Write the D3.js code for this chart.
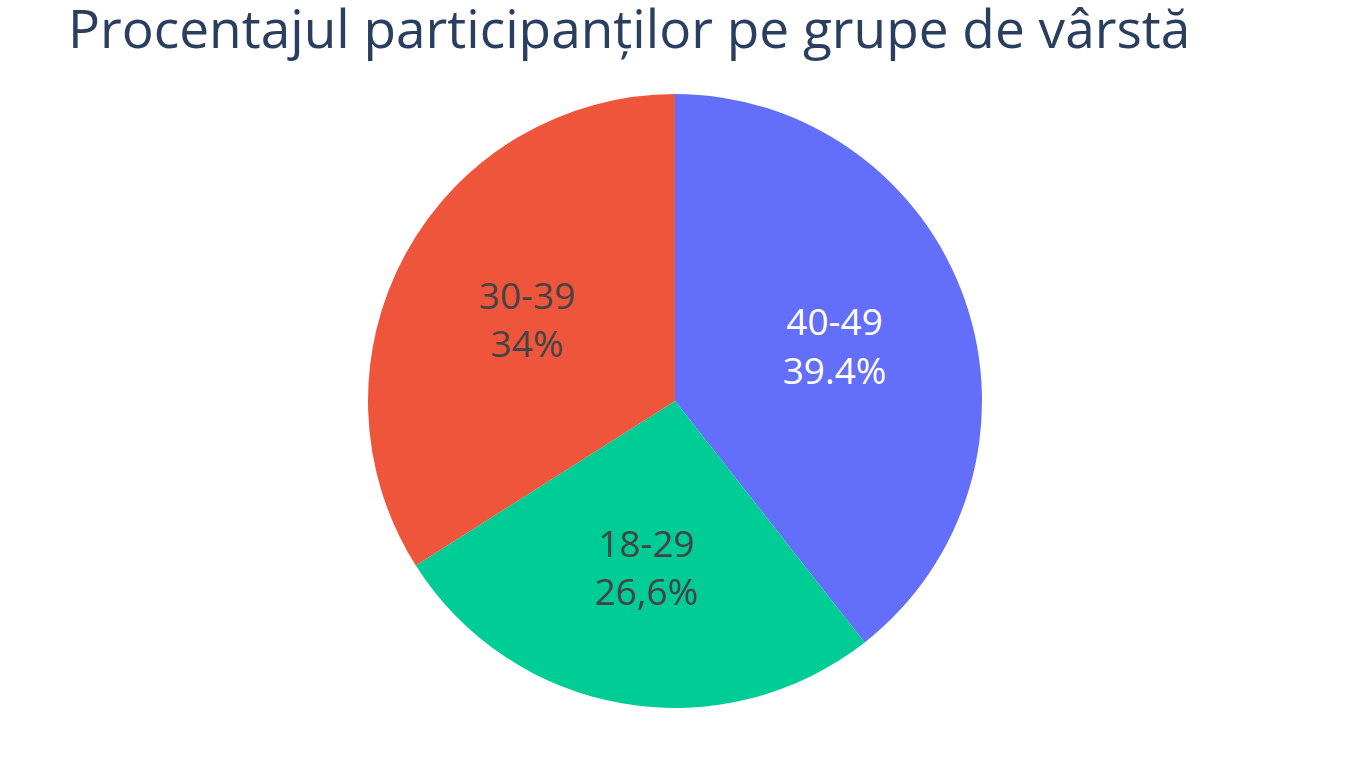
<!DOCTYPE html>
<html>
<head>
<meta charset="utf-8">
<script src="https://cdn.jsdelivr.net/npm/d3@7"></script>
<style>
  html, body { margin: 0; padding: 0; background: #fff; }
  svg { display: block; font-family: "Open Sans", sans-serif; }
</style>
</head>
<body>
<svg id="chart" width="1350" height="784"></svg>
<script>
// data
const groups = ['40-49', '18-29', '30-39'];
const shares = [39.4, 26.6, 34];
const shareLabels = ['39.4%', '26,6%', '34%'];
const colors = ['#636efa', '#00cc96', '#ef553b'];
const textColors = ['#ffffff', '#444444', '#444444'];

const title = 'Procentajul participanților pe grupe de vârstă';

let svg = d3.select('#chart'),
  cx = 675, cy = 401, radius = 307;

svg.append('text')
  .attr('x', 68)
  .attr('y', 48)
  .attr('fill', '#2a3f5f')
  .style('font-size', '53.2px')
  .text(title);

let data = groups.map((g, i) => ({group: g, value: shares[i], label: shareLabels[i], color: colors[i], text: textColors[i]}));

let pie = d3.pie()
  .sort(null)
  .value(d => d.value);

let arc = d3.arc()
  .innerRadius(0)
  .outerRadius(radius);

let labelArc = d3.arc()
  .innerRadius(radius * 0.55)
  .outerRadius(radius * 0.55);

let g = svg.append('g')
  .attr('transform', 'translate(' + cx + ',' + cy + ')');

let slices = g.selectAll('.slice')
  .data(pie(data))
  .enter().append('g')
  .attr('class', 'slice');

slices.append('path')
  .attr('d', arc)
  .attr('fill', d => d.data.color);

let labels = slices.append('text')
  .attr('transform', d => 'translate(' + labelArc.centroid(d) + ')')
  .attr('text-anchor', 'middle')
  .attr('fill', d => d.data.text)
  .style('font-size', '37px');

labels.append('tspan')
  .attr('x', 0)
  .attr('dy', '-0.28em')
  .text(d => d.data.group);

labels.append('tspan')
  .attr('x', 0)
  .attr('dy', '1.3em')
  .text(d => d.data.label);
</script>
</body>
</html>
